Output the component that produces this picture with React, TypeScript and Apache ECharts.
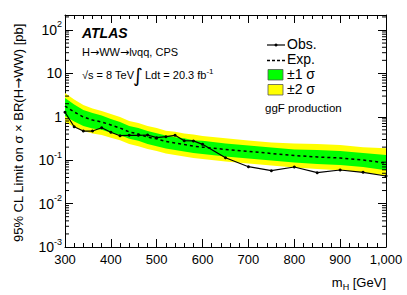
import React, { useEffect, useRef } from 'react';
import * as echarts from 'echarts';

// Higgs mass points [GeV]
const masses = [300, 320, 340, 360, 380, 400, 420, 440, 460, 480, 500, 520, 540, 560, 580, 600, 650, 700, 750, 800, 850, 900, 950, 1000];
// Observed limit [pb]
const observed = [1.27, 0.59, 0.47, 0.47, 0.56, 0.44, 0.367, 0.375, 0.375, 0.381, 0.33, 0.348, 0.375, 0.281, 0.278, 0.232, 0.114, 0.0708, 0.0573, 0.0697, 0.0515, 0.0594, 0.0526, 0.0432];
// Expected limit [pb]
const expected = [1.77, 1.29, 0.99, 0.84, 0.76, 0.65, 0.55, 0.45, 0.40, 0.34, 0.31, 0.27, 0.25, 0.23, 0.21, 0.20, 0.177, 0.159, 0.143, 0.128, 0.119, 0.112, 0.101, 0.086];
// +/- 1 sigma band
const plus1 = [2.71, 1.92, 1.43, 1.22, 1.07, 0.89, 0.76, 0.61, 0.55, 0.47, 0.42, 0.37, 0.34, 0.32, 0.29, 0.28, 0.243, 0.218, 0.196, 0.177, 0.172, 0.163, 0.147, 0.132];
const minus1 = [1.04, 0.78, 0.61, 0.54, 0.50, 0.43, 0.38, 0.31, 0.28, 0.236, 0.21, 0.186, 0.172, 0.159, 0.147, 0.139, 0.122, 0.109, 0.098, 0.089, 0.082, 0.078, 0.070, 0.059];
// +/- 2 sigma band
const plus2 = [3.53, 2.50, 1.87, 1.55, 1.36, 1.16, 0.99, 0.80, 0.72, 0.61, 0.55, 0.48, 0.45, 0.41, 0.39, 0.36, 0.32, 0.284, 0.256, 0.243, 0.236, 0.224, 0.20, 0.188];
const minus2 = [0.76, 0.58, 0.47, 0.41, 0.38, 0.33, 0.29, 0.236, 0.21, 0.18, 0.163, 0.143, 0.132, 0.122, 0.112, 0.107, 0.093, 0.084, 0.075, 0.068, 0.063, 0.059, 0.053, 0.044];

// Axis ranges
const xMin = 300;
const xMax = 1000;
const xStep = 100;
const yMin = 0.001;
const yMax = 221.6;
const yDecades = [-3, -2, -1, 0, 1, 2];
const minorMultipliers = [2, 3, 4, 5, 6, 7, 8, 9];

const FONT = '"Liberation Sans", Arial, Helvetica, sans-serif';
const ARROW_FONT = '"DejaVu Sans", sans-serif';

export default function App() {
  const ref = useRef<HTMLDivElement>(null);

  useEffect(() => {
    if (!ref.current) return;
    const chart = echarts.init(ref.current, null, { renderer: 'svg' });

    const band = (upper: number[], lower: number[], color: string) => (params: any, api: any) => {
      if (params.dataIndex !== 0) return null;
      const pts: number[][] = [];
      for (let i = 0; i < masses.length; i++) pts.push(api.coord([masses[i], upper[i]]));
      for (let i = masses.length - 1; i >= 0; i--) pts.push(api.coord([masses[i], lower[i]]));
      return { type: 'polygon', shape: { points: pts }, style: { fill: color, stroke: 'none' } };
    };

    const minorTicks = (params: any, api: any) => {
      if (params.dataIndex !== 0) return null;
      const children: any[] = [];
      for (const k of yDecades) {
        for (const m of minorMultipliers) {
          const v = m * Math.pow(10, k);
          if (v > yMax || v < yMin) continue;
          const l = api.coord([xMin, v]);
          const r = api.coord([xMax, v]);
          children.push({ type: 'line', shape: { x1: l[0], y1: l[1], x2: l[0] + 4, y2: l[1] }, style: { stroke: '#000', lineWidth: 1 } });
          children.push({ type: 'line', shape: { x1: r[0] - 4, y1: r[1], x2: r[0], y2: r[1] }, style: { stroke: '#000', lineWidth: 1 } });
        }
      }
      return { type: 'group', children };
    };

    const yLabel = (v: number) => {
      const k = Math.round(Math.log10(v));
      if (Math.abs(v - Math.pow(10, k)) / Math.pow(10, k) > 1e-6) return '';
      if (k === 0) return '{n|1}';
      if (k === 1) return '{n|10}';
      return '{n|10}{s|' + k + '}';
    };

    const axisCommon = {
      axisLine: { show: true, lineStyle: { color: '#000', width: 1 } },
      splitLine: { show: false },
    };

    const bandData = masses.map((m, i) => [m, expected[i]]);

    chart.setOption({
      animation: false,
      backgroundColor: '#fff',
      grid: { left: 65, right: 21, top: 15, bottom: 48, containLabel: false },
      xAxis: [
        {
          type: 'value', min: xMin, max: xMax, interval: xStep, position: 'bottom',
          ...axisCommon,
          axisTick: { show: true, inside: true, length: 8, lineStyle: { color: '#000' } },
          minorTick: { show: true, splitNumber: 5, length: 4, lineStyle: { color: '#000' } },
          axisLabel: { show: true, color: '#000', fontFamily: FONT, fontSize: 13, margin: 6 },
        },
        {
          type: 'value', min: xMin, max: xMax, interval: xStep, position: 'top',
          ...axisCommon,
          axisTick: { show: true, inside: true, length: 8, lineStyle: { color: '#000' } },
          minorTick: { show: true, splitNumber: 5, length: 4, lineStyle: { color: '#000' } },
          axisLabel: { show: false },
        },
      ],
      yAxis: [
        {
          type: 'log', logBase: 10, min: yMin, max: yMax, position: 'left',
          ...axisCommon,
          axisTick: { show: true, inside: true, length: 8, lineStyle: { color: '#000' } },
          axisLabel: {
            show: true, color: '#000', margin: 3, showMaxLabel: false,
            formatter: yLabel,
            rich: {
              n: { fontFamily: FONT, fontSize: 14, color: '#000', lineHeight: 20 },
              s: { fontFamily: FONT, fontSize: 9, color: '#000', lineHeight: 9, verticalAlign: 'top' },
            },
          },
        },
        {
          type: 'log', logBase: 10, min: yMin, max: yMax, position: 'right',
          ...axisCommon,
          axisTick: { show: true, inside: true, length: 8, lineStyle: { color: '#000' } },
          axisLabel: { show: false },
        },
      ],
      series: [
        { type: 'custom', name: '±2 σ', silent: true, data: bandData, renderItem: band(plus2, minus2, '#ffff00'), z: 1 },
        { type: 'custom', name: '±1 σ', silent: true, data: bandData, renderItem: band(plus1, minus1, '#00ff00'), z: 2 },
        {
          type: 'line', name: 'Exp.', data: masses.map((m, i) => [m, expected[i]]), showSymbol: false, z: 3,
          lineStyle: { color: '#000', width: 1.5, type: [3, 3] },
        },
        {
          type: 'line', name: 'Obs.', data: masses.map((m, i) => [m, observed[i]]), z: 4,
          symbol: 'circle', symbolSize: 3, itemStyle: { color: '#000' },
          lineStyle: { color: '#000', width: 1.2 },
        },
        { type: 'custom', silent: true, data: [[xMin, 1]], renderItem: minorTicks, z: 5, clip: false },
      ],
      graphic: [
        // y-axis title
        {
          type: 'text', x: 18, y: 133, rotation: Math.PI / 2,
          style: {
            text: '{a|95% CL Limit on σ × BR(H}{r|→}{a|WW) [pb]}', align: 'center', verticalAlign: 'middle',
            rich: {
              a: { fontFamily: FONT, fontSize: 13, fill: '#000' },
              r: { fontFamily: ARROW_FONT, fontSize: 13, fill: '#000' },
            },
          },
        },
        // x-axis title
        {
          type: 'text', x: 386, y: 282,
          style: {
            text: '{m|m}{sub|H}{m| [GeV]}', align: 'right', verticalAlign: 'middle',
            rich: {
              m: { fontFamily: FONT, fontSize: 13, fill: '#000', lineHeight: 18 },
              sub: { fontFamily: FONT, fontSize: 9, fill: '#000', lineHeight: 9, verticalAlign: 'bottom' },
            },
          },
        },
        // ATLAS label block
        { type: 'text', x: 82, y: 33, style: { text: 'ATLAS', fontFamily: FONT, fontSize: 14, fontWeight: 'bold', fontStyle: 'italic', fill: '#000', verticalAlign: 'middle' } },
        {
          type: 'text', x: 82, y: 52,
          style: {
            text: '{a|H}{r|→}{a|WW}{r|→}{a|lνqq, CPS}', verticalAlign: 'middle',
            rich: {
              a: { fontFamily: FONT, fontSize: 11, fill: '#000' },
              r: { fontFamily: ARROW_FONT, fontSize: 11, fill: '#000' },
            },
          },
        },
        { type: 'text', x: 82, y: 75, style: { text: '√s = 8 TeV', fontFamily: FONT, fontSize: 11, fill: '#000', verticalAlign: 'middle' } },
        { type: 'text', x: 133, y: 75, style: { text: '∫', fontFamily: ARROW_FONT, fontSize: 19, fill: '#000', verticalAlign: 'middle' } },
        {
          type: 'text', x: 145, y: 75,
          style: {
            text: '{t|Ldt = 20.3 fb}{s|-1}', verticalAlign: 'middle',
            rich: {
              t: { fontFamily: FONT, fontSize: 11, fill: '#000', lineHeight: 16 },
              s: { fontFamily: FONT, fontSize: 8, fill: '#000', lineHeight: 8, verticalAlign: 'top' },
            },
          },
        },
        // legend
        { type: 'line', shape: { x1: 267, y1: 45, x2: 285, y2: 45 }, style: { stroke: '#000', lineWidth: 1.2 } },
        { type: 'circle', shape: { cx: 276, cy: 45, r: 1.5 }, style: { fill: '#000' } },
        { type: 'text', x: 287, y: 44, style: { text: 'Obs.', fontFamily: FONT, fontSize: 14, fill: '#000', verticalAlign: 'middle' } },
        { type: 'line', shape: { x1: 267, y1: 60.5, x2: 285, y2: 60.5 }, style: { stroke: '#000', lineWidth: 1.5, lineDash: [3, 2] } },
        { type: 'text', x: 287, y: 59, style: { text: 'Exp.', fontFamily: FONT, fontSize: 14, fill: '#000', verticalAlign: 'middle' } },
        { type: 'rect', shape: { x: 268, y: 69.5, width: 15, height: 10.5 }, style: { fill: '#00ff00', stroke: '#555', lineWidth: 0.8 } },
        { type: 'text', x: 287, y: 74, style: { text: '±1 σ', fontFamily: FONT, fontSize: 14, fill: '#000', verticalAlign: 'middle' } },
        { type: 'rect', shape: { x: 268, y: 84.5, width: 15, height: 10.5 }, style: { fill: '#ffff00', stroke: '#555', lineWidth: 0.8 } },
        { type: 'text', x: 287, y: 89, style: { text: '±2 σ', fontFamily: FONT, fontSize: 14, fill: '#000', verticalAlign: 'middle' } },
        { type: 'text', x: 265, y: 108, style: { text: 'ggF production', fontFamily: FONT, fontSize: 11.5, fill: '#000', verticalAlign: 'middle' } },
      ],
    });

    return () => chart.dispose();
  }, []);

  return <div ref={ref} style={{ position: 'fixed', left: 0, top: 0, width: 407, height: 295 }} />;
}
